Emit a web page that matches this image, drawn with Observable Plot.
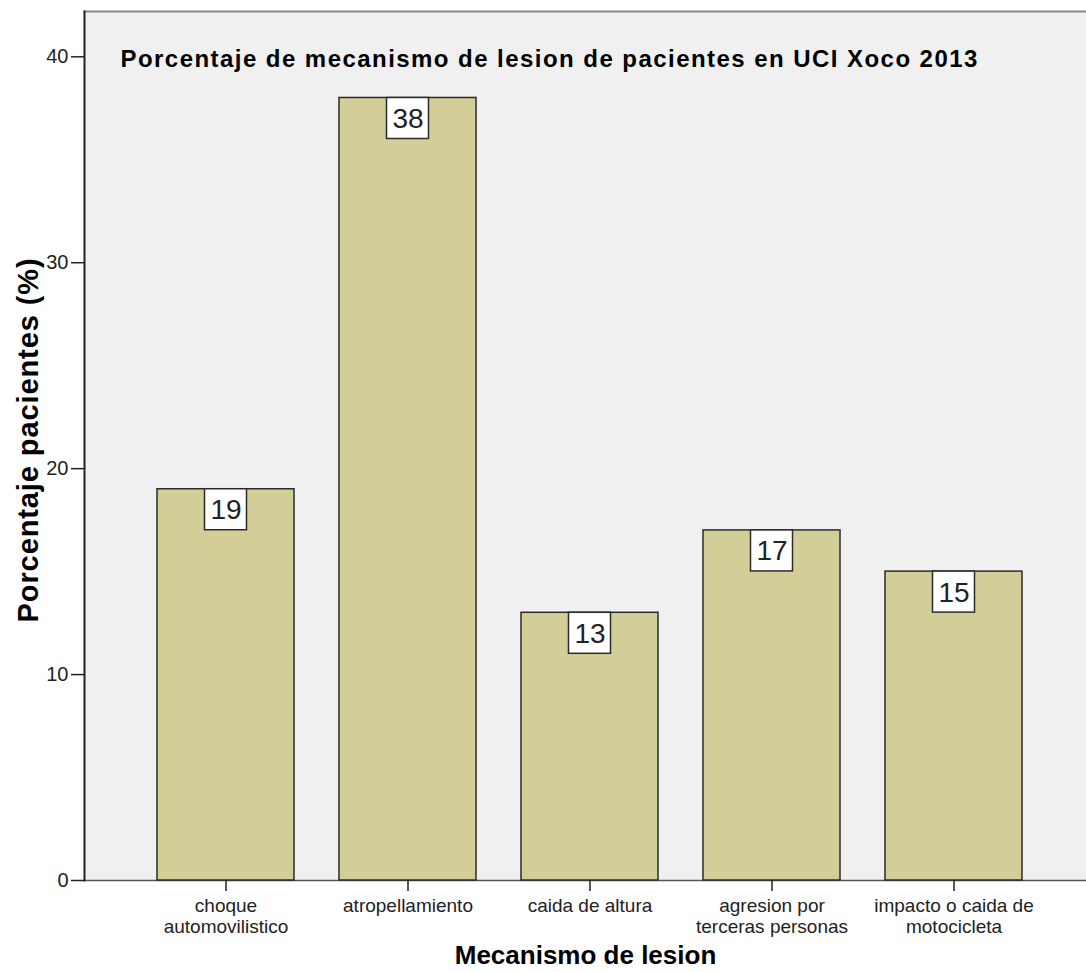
<!DOCTYPE html>
<html>
<head>
<meta charset="utf-8">
<script src="https://cdn.jsdelivr.net/npm/d3@7"></script>
<script src="https://cdn.jsdelivr.net/npm/@observablehq/plot@0.6"></script>
<style>
  html, body { margin: 0; padding: 0; background: #fff; }
  #chart svg { display: block; }
</style>
</head>
<body>
<div id="chart"></div>
<script>
// Mechanism of injury categories (tick labels, with line breaks as shown on the axis)
const categories = [
  "choque\nautomovilistico",
  "atropellamiento",
  "caida de altura",
  "agresion por\nterceras personas",
  "impacto o caida de\nmotocicleta"
];
// Percentage of ICU patients per mechanism
const percentages = [19, 38, 13, 17, 15];
// Y axis ticks and upper bound
const yTicks = [0, 10, 20, 30, 40];
const yMax = 42.2;

const title = "Porcentaje de mecanismo de lesion de pacientes en UCI Xoco 2013";
const xLabel = "Mecanismo de lesion";
const yLabel = "Porcentaje pacientes (%)";

const data = categories.map((c, i) => ({category: c, value: percentages[i]}));
const font = "'Liberation Sans', Arial, Helvetica, sans-serif";

const chart = Plot.plot({
  width: 1086,
  height: 972,
  marginLeft: 84,
  marginRight: 0,
  marginTop: 11,
  marginBottom: 92,
  style: {fontFamily: font, background: "#fff", overflow: "visible"},
  x: {domain: categories, paddingInner: 0.247, paddingOuter: 0.376, align: 0.533, label: null},
  y: {domain: [0, yMax], label: null},
  marks: [
    Plot.frame({fill: "#f0f0f0", stroke: "none"}),
    Plot.frame({anchor: "top", stroke: "#8a8a8a", strokeWidth: 2}),
    Plot.frame({anchor: "bottom", stroke: "#555", strokeWidth: 1.5}),
    Plot.barY(data, {x: "category", y: "value", fill: "#d3ce97", stroke: "#2b2b2b", strokeWidth: 1.5}),
    // value boxes hanging from each bar top
    Plot.barY(data, {x: "category", y1: "value", y2: "value", insetLeft: 47.5, insetRight: 47.5, insetBottom: -41,
      fill: "#fff", stroke: "#2b2b2b", strokeWidth: 1.5}),
    Plot.text(data, {x: "category", y: "value", text: d => String(d.value), dy: 21, lineAnchor: "middle",
      fontSize: 28, fill: "#222"}),
    Plot.frame({anchor: "left", stroke: "#222", strokeWidth: 2}),
    Plot.axisY({ticks: yTicks, tickSize: 13, tickPadding: 3, fontSize: 20, color: "#222", label: null, strokeWidth: 1.5}),
    Plot.axisX({tickSize: 11, tickPadding: 6, fontSize: 19, color: "#222", label: null, lineHeight: 1.08, strokeWidth: 1.5}),
    Plot.text([title], {frameAnchor: "top-left", textAnchor: "start", dx: 36, dy: 48, lineAnchor: "middle",
      fontSize: 24, fontWeight: "bold", fill: "#000", text: d => d}),
    Plot.text([yLabel], {frameAnchor: "left", textAnchor: "middle", rotate: -90, dx: -56, dy: -6, lineAnchor: "middle",
      fontSize: 29, fontWeight: "bold", fill: "#000", text: d => d}),
    Plot.text([xLabel], {frameAnchor: "bottom", dy: 75, lineAnchor: "middle",
      fontSize: 26, fontWeight: "bold", fill: "#000", text: d => d})
  ]
});

// widen the bold titles slightly
const spacing = new Map([[title, "1.45px"], [yLabel, "0.9px"]]);
d3.select(chart).selectAll("text")
  .filter(function() { return spacing.has(this.textContent); })
  .attr("letter-spacing", function() { return spacing.get(this.textContent); });

document.getElementById("chart").appendChild(chart);
</script>
</body>
</html>
